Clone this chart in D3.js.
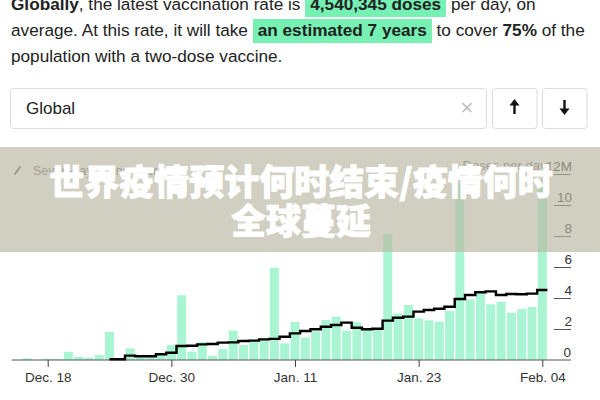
<!DOCTYPE html>
<html>
<head>
<meta charset="utf-8">
<script src="https://cdn.jsdelivr.net/npm/d3@7"></script>
<style>
  body { margin: 0; width: 600px; height: 400px; overflow: hidden; background: #fff;
         font-family: "Liberation Sans", Arial, sans-serif; position: relative; }
  #lede { position: absolute; left: 11px; top: -9.5px; font-size: 17.2px; line-height: 26px;
          color: #222; white-space: nowrap; }
  #lede b { font-weight: 700; }
  #lede .hl { background: #76f0b3; padding: 0.5px 5px 3.4px; font-weight: 700; }
  svg { position: absolute; left: 0; top: 0; }
</style>
</head>
<body>
<div id="lede"><b>Globally</b>, the latest vaccination rate is <span class="hl">4,540,345 doses</span> per day, on<br>average. At this rate, it will take <span class="hl">an estimated 7 years</span> to cover <b>75%</b> of the<br>population with a two-dose vaccine.</div>
<svg id="chart" width="600" height="400"></svg>
<script>
// days shown, Dec 15 2020 to Feb 4 2021
const days = [
  "2020-12-15","2020-12-16","2020-12-17","2020-12-18","2020-12-19","2020-12-20","2020-12-21",
  "2020-12-22","2020-12-23","2020-12-24","2020-12-25","2020-12-26","2020-12-27","2020-12-28",
  "2020-12-29","2020-12-30","2020-12-31",
  "2021-01-01","2021-01-02","2021-01-03","2021-01-04","2021-01-05","2021-01-06","2021-01-07",
  "2021-01-08","2021-01-09","2021-01-10","2021-01-11","2021-01-12","2021-01-13","2021-01-14",
  "2021-01-15","2021-01-16","2021-01-17","2021-01-18","2021-01-19","2021-01-20","2021-01-21",
  "2021-01-22","2021-01-23","2021-01-24","2021-01-25","2021-01-26","2021-01-27","2021-01-28",
  "2021-01-29","2021-01-30","2021-01-31",
  "2021-02-01","2021-02-02","2021-02-03","2021-02-04"
];

// daily doses, millions
const doses = [
  0, 0.1, 0, 0.08, 0.06, 0.53, 0.2, 0.15, 0.33, 1.82, 0, 0.75, 0.25, 0.3, 0.4, 0.96, 4.18,
  0.54, 1.15, 0.28, 0.71, 1.9, 0.96, 1.22, 1.4, 5.96, 1.07, 2.45, 1.46, 1.85, 2.58, 2.8,
  1.88, 2.43, 1.94, 2.02, 8.12, 3.0, 3.55, 2.69, 2.56, 2.47, 3.16, 11.4, 3.91, 4.3, 3.59, 3.76,
  3.05, 3.29, 3.42, 11.6
];

// seven-day rolling average, millions (starts Dec 24)
const rolling = [
  null, null, null, null, null, null, null, null, null,
  0.05, 0.05, 0.28, 0.24, 0.24, 0.37, 0.47, 0.9,
  0.92, 1.01, 1.03, 1.12, 1.14, 1.23, 1.25, 1.33, 1.36, 1.5,
  1.72, 1.87, 1.98, 2.15, 2.26, 2.41, 2.08, 1.98, 2.02, 2.54,
  2.73, 2.8, 3.12, 3.23, 3.31, 3.44, 3.94, 4.19, 4.37, 4.43, 4.19,
  4.26, 4.24, 4.28, 4.52
];

const xTickDays = ["2020-12-18", "2020-12-30", "2021-01-11", "2021-01-23", "2021-02-04"];
const xTickLabels = ["Dec. 18", "Dec. 30", "Jan. 11", "Jan. 23", "Feb. 04"];
const yTicks = [2, 4, 6, 8, 10, 12];
const yTickLabels = ["2", "4", "6", "8", "10", "12M"];

const parse = d3.timeParse("%Y-%m-%d");
const svg = d3.select("#chart");

// search box + arrow buttons
svg.append("rect").attr("x", 10.5).attr("y", 88.5).attr("width", 476).attr("height", 40)
  .attr("rx", 3).attr("fill", "#fff").attr("stroke", "#dcdcdc");
svg.append("text").attr("x", 26).attr("y", 113.5).attr("font-size", 17).attr("fill", "#222")
  .text("Global");
svg.append("text").attr("x", 467).attr("y", 115).attr("font-size", 22).attr("fill", "#bdbdbd")
  .attr("text-anchor", "middle").text("×");
[492.5, 542.5].forEach((bx, i) => {
  svg.append("rect").attr("x", bx).attr("y", 88.5).attr("width", 44.5).attr("height", 40)
    .attr("rx", 3).attr("fill", "#fff").attr("stroke", "#dcdcdc");
  const cx = bx + 22, up = i === 0;
  svg.append("line").attr("x1", cx).attr("x2", cx)
    .attr("y1", up ? 104 : 100).attr("y2", up ? 114 : 110)
    .attr("stroke", "#111").attr("stroke-width", 2.4);
  svg.append("path")
    .attr("d", up ? `M${cx},99 L${cx - 5},105.5 L${cx + 5},105.5 Z`
                  : `M${cx},115 L${cx - 5},108.5 L${cx + 5},108.5 Z`)
    .attr("fill", "#111");
});

// chart
const x = d3.scaleTime()
  .domain([parse("2020-12-18"), parse("2021-02-04")])
  .range([47.7, 542.3]);
const y = d3.scaleLinear().domain([0, 12]).range([360, 174]);
const dayW = x(parse("2020-12-19")) - x(parse("2020-12-18"));
const barW = dayW - 1.3;

const rows = days.map((d, i) => ({ date: parse(d), v: doses[i], avg: rolling[i] }));

const chart = svg.append("g");

chart.selectAll(".bar").data(rows.filter(r => r.v > 0)).join("rect")
  .attr("class", "bar")
  .attr("x", r => x(r.date) - barW / 2)
  .attr("width", barW)
  .attr("y", r => y(r.v))
  .attr("height", r => y(0) - y(r.v))
  .attr("fill", "#a9f5d3");

// baseline
chart.append("line").attr("x1", x(parse("2020-12-15")) - dayW / 2).attr("x2", 571)
  .attr("y1", y(0)).attr("y2", y(0)).attr("stroke", "#555").attr("stroke-width", 1);

// rolling average as a step line
const avgRows = rows.filter(r => r.avg != null);
const pts = avgRows.map((r, i) => [i === 0 ? x(r.date) : x(r.date) - dayW / 2, y(r.avg)]);
const last = avgRows[avgRows.length - 1];
pts.push([x(last.date) + dayW / 2, y(last.avg)]);
chart.append("path")
  .attr("d", d3.line().curve(d3.curveStepAfter)(pts))
  .attr("fill", "none").attr("stroke", "#000").attr("stroke-width", 2.4);

// x axis
const xAxis = chart.append("g").attr("transform", `translate(0,${y(0)})`)
  .call(d3.axisBottom(x)
    .tickValues(xTickDays.map(parse))
    .tickFormat((d, i) => xTickLabels[i])
    .tickSize(7).tickPadding(5.5));
xAxis.select(".domain").remove();
xAxis.selectAll("line").attr("stroke", "#444");
xAxis.selectAll("text").attr("font-size", 13.5).attr("fill", "#333")
  .attr("font-family", "Liberation Sans, Arial, sans-serif");

// y axis: short rules with the label sitting on top
const yAxis = chart.append("g").attr("transform", "translate(571,0)")
  .call(d3.axisLeft(y).tickValues(yTicks)
    .tickFormat((d, i) => yTickLabels[i]).tickSize(17));
yAxis.select(".domain").remove();
yAxis.selectAll("line").attr("stroke", "#555");
yAxis.selectAll("text").attr("x", 1).attr("dy", 0).attr("y", -4)
  .attr("text-anchor", "end").attr("font-size", 13.5).attr("fill", "#333")
  .attr("font-family", "Liberation Sans, Arial, sans-serif");
chart.append("text").attr("x", 571).attr("y", y(0) - 3.5).attr("text-anchor", "end")
  .attr("font-size", 13.5).attr("fill", "#333").text("0");

// labels behind the banner
chart.append("text").attr("x", 550).attr("y", y(12) - 4).attr("text-anchor", "end")
  .attr("font-size", 13).attr("fill", "#777").text("Doses per day:");
chart.append("line").attr("x1", 14.5).attr("y1", 174.5).attr("x2", 20.5).attr("y2", 166.5)
  .attr("stroke", "#555").attr("stroke-width", 1.5);
chart.append("text").attr("x", 33).attr("y", 174.5).attr("font-size", 12.5).attr("fill", "#777")
  .text("Seven-day rolling average");

// banner on top
svg.append("rect").attr("x", 0).attr("y", 147).attr("width", 600).attr("height", 105)
  .attr("fill", "#b9b59f").attr("opacity", 0.65);
const title = ["世界疫情预计何时结束/疫情何时", "全球蔓延"];
svg.selectAll(".ttl").data(title).join("text")
  .attr("class", "ttl")
  .attr("x", 301).attr("y", (d, i) => 195 + i * 39)
  .attr("text-anchor", "middle")
  .attr("font-family", "Noto Sans CJK SC, sans-serif")
  .attr("font-weight", 900).attr("font-size", 35).attr("fill", "#fff")
  .attr("stroke", "#fff").attr("stroke-width", 0.9).attr("stroke-linejoin", "round")
  .text(d => d);
</script>
</body>
</html>
